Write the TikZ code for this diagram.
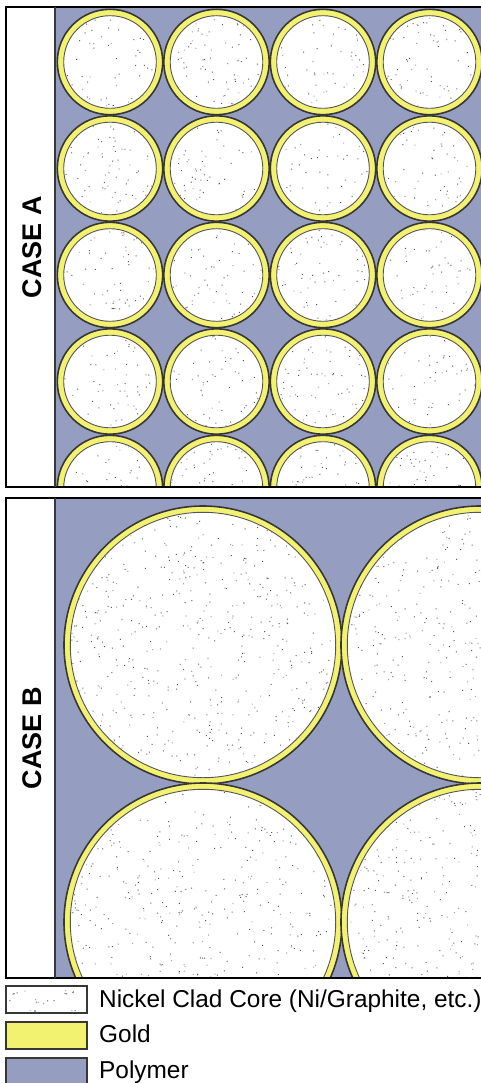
\documentclass[tikz,border=0pt]{standalone}
\usepackage{fontspec}
\setmainfont{Liberation Sans}
\definecolor{polymer}{RGB}{149,157,193}
\definecolor{gold}{RGB}{243,241,112}
\definecolor{edge}{RGB}{55,55,55}
\begin{document}
\begin{tikzpicture}[x=1pt,y=-1pt,
  ring/.style={fill=gold,draw=edge,line width=1.6pt},
  core/.style={fill=white,draw=edge!85,line width=0.9pt},
  frame/.style={draw=black,line width=1.4pt},
  sep/.style={draw=edge,line width=2pt},
  caselabel/.style={rotate=90,font=\fontsize{27}{30}\selectfont\bfseries,inner sep=0pt},
  legendtext/.style={anchor=base west,font=\fontsize{24.4}{28}\selectfont,inner sep=0pt},
  swatch/.style={draw=edge,line width=1.2pt,minimum width=81pt,minimum height=27pt,inner sep=0pt},
  darkdot/.style={fill=black!65},
  lightdot/.style={fill=black!35}]
\useasboundingbox (0,0) rectangle (481,1083);
\pgfmathsetseed{7}
% ---------- Panel A ----------
\begin{scope}
  \clip (55,7) rectangle (481,487);
  \fill[polymer] (55,7) rectangle (481,487);
  \foreach \cx in {110,216.5,323,429.5} {
    \foreach \cy in {62,168.5,275,381.5,488} {
      \draw[ring] (\cx,\cy) circle (52.7pt);
      \draw[core] (\cx,\cy) circle (46.3pt);
    }
  }
  \clip \foreach \cx in {110,216.5,323,429.5} {
    \foreach \cy in {62,168.5,275,381.5,488} { (\cx,\cy) circle (45.5pt) }
  };
  \fill[darkdot] \foreach \i in {1,...,1100} { ({55+426*rnd},{7+480*rnd}) rectangle ++(1pt,1pt) };
  \fill[lightdot] \foreach \i in {1,...,600} { ({55+426*rnd},{7+480*rnd}) rectangle ++(1.1pt,1.1pt) };
\end{scope}
\draw[frame] (481,7) -- (6,7) -- (6,487) -- (481,487);
\draw[sep] (55,7) -- (55,487);
\node[caselabel] (labA) at (32,247) {CASE A};
% ---------- Panel B ----------
\begin{scope}
  \clip (55,498) rectangle (481,978);
  \fill[polymer] (55,498) rectangle (481,978);
  \foreach \cx in {203,480} {
    \foreach \cy in {645,922} {
      \draw[ring] (\cx,\cy) circle (139pt);
      \draw[core] (\cx,\cy) circle (132.7pt);
    }
  }
  \clip \foreach \cx in {203,480} {
    \foreach \cy in {645,922} { (\cx,\cy) circle (131.8pt) }
  };
  \fill[darkdot] \foreach \i in {1,...,1100} { ({55+426*rnd},{498+480*rnd}) rectangle ++(1pt,1pt) };
  \fill[lightdot] \foreach \i in {1,...,600} { ({55+426*rnd},{498+480*rnd}) rectangle ++(1.1pt,1.1pt) };
\end{scope}
\draw[frame] (481,498) -- (6,498) -- (6,978) -- (481,978);
\draw[sep] (55,498) -- (55,978);
\node[caselabel] (labB) at (32,738) {CASE B};
% ---------- Legend ----------
\node[swatch,fill=white] (swcore) at (46.5,999.5) {};
\begin{scope}
  \clip (7,987) rectangle (86,1012);
  \fill[darkdot] \foreach \i in {1,...,14} { ({7+79*rnd},{987+25*rnd}) rectangle ++(1pt,1pt) };
  \fill[lightdot] \foreach \i in {1,...,7} { ({7+79*rnd},{987+25*rnd}) rectangle ++(1.1pt,1.1pt) };
\end{scope}
\node[swatch,fill=gold] (swgold) at (46.5,1035.5) {};
\node[swatch,fill=polymer] (swpoly) at (46.5,1071.5) {};
\node[legendtext] (txcore) at (99,1007) {Nickel Clad Core (Ni/Graphite, etc.)};
\node[legendtext] (txgold) at (99,1042) {Gold};
\node[legendtext] (txpoly) at (99,1078) {Polymer};
\end{tikzpicture}
\end{document}
